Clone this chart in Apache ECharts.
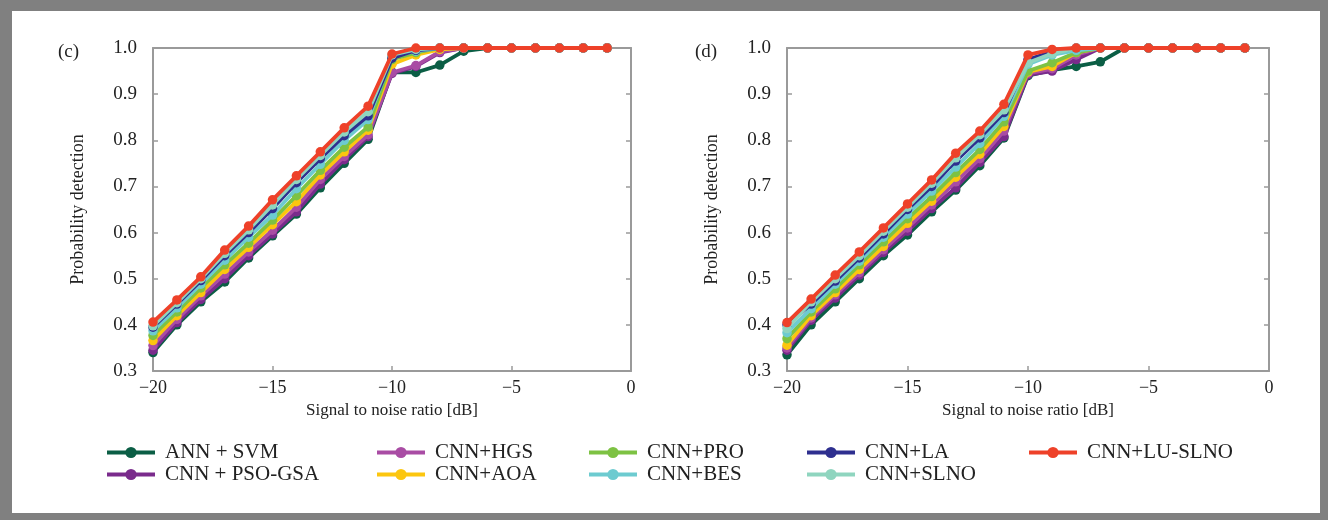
<!DOCTYPE html>
<html><head><meta charset="utf-8">
<script src="https://cdn.jsdelivr.net/npm/echarts@6/dist/echarts.min.js"></script>
<style>
html,body{margin:0;padding:0;background:#808080;width:1328px;height:520px;overflow:hidden;}
#c{position:absolute;left:12px;top:11px;width:1308px;height:502px;background:#fff;}
</style></head><body><div id="c"></div>
<script>
const snr = [-20,-19,-18,-17,-16,-15,-14,-13,-12,-11,-10,-9,-8,-7,-6,-5,-4,-3,-2,-1];
const names = ['ANN + SVM','CNN + PSO-GSA','CNN+HGS','CNN+AOA','CNN+PRO','CNN+BES','CNN+LA','CNN+SLNO','CNN+LU-SLNO'];
const colors = ['#0b5e45','#7a2b8c','#a94ca4','#fcc60f','#7dc243','#6dcbd0','#2e2f8f','#8fd5bf','#ee4129'];
const yTicks = [0.3,0.4,0.5,0.6,0.7,0.8,0.9,1.0];
const xTicks = [-20,-15,-10,-5,0];

// panel (c)
const c_svm  = [0.340,0.400,0.450,0.493,0.545,0.593,0.640,0.697,0.750,0.802,0.948,0.947,0.963,0.993,1,1,1,1,1,1];
const c_pso  = [0.345,0.405,0.455,0.500,0.550,0.597,0.645,0.705,0.758,0.808,0.945,0.960,0.990,1,1,1,1,1,1,1];
const c_hgs  = [0.355,0.412,0.463,0.510,0.558,0.605,0.655,0.715,0.765,0.812,0.947,0.962,0.992,1,1,1,1,1,1,1];
const c_aoa  = [0.366,0.420,0.470,0.520,0.568,0.617,0.667,0.725,0.775,0.822,0.965,0.985,0.997,1,1,1,1,1,1,1];
const c_pro  = [0.377,0.428,0.480,0.530,0.577,0.627,0.680,0.735,0.785,0.829,0.975,0.990,1,1,1,1,1,1,1,1];
const c_bes  = [0.387,0.437,0.488,0.540,0.590,0.638,0.695,0.748,0.800,0.845,0.982,0.993,1,1,1,1,1,1,1,1];
const c_la   = [0.395,0.445,0.496,0.550,0.600,0.652,0.708,0.760,0.810,0.853,0.978,0.995,1,1,1,1,1,1,1,1];
const c_slno = [0.398,0.448,0.500,0.555,0.606,0.660,0.715,0.767,0.818,0.862,0.985,0.997,1,1,1,1,1,1,1,1];
const c_lu   = [0.406,0.454,0.504,0.562,0.614,0.671,0.723,0.775,0.827,0.874,0.987,1,1,1,1,1,1,1,1,1];

// panel (d)
const d_svm  = [0.335,0.400,0.450,0.500,0.550,0.595,0.645,0.692,0.745,0.805,0.940,0.952,0.960,0.970,1,1,1,1,1,1];
const d_pso  = [0.345,0.410,0.458,0.508,0.557,0.603,0.652,0.697,0.752,0.808,0.942,0.950,0.975,1,1,1,1,1,1,1];
const d_hgs  = [0.350,0.415,0.465,0.513,0.563,0.610,0.660,0.710,0.760,0.820,0.945,0.955,0.985,1,1,1,1,1,1,1];
const d_aoa  = [0.356,0.420,0.470,0.520,0.570,0.620,0.668,0.720,0.770,0.830,0.948,0.960,0.990,1,1,1,1,1,1,1];
const d_pro  = [0.370,0.428,0.478,0.530,0.580,0.630,0.678,0.730,0.780,0.840,0.950,0.968,0.990,1,1,1,1,1,1,1];
const d_bes  = [0.383,0.435,0.488,0.538,0.590,0.640,0.690,0.742,0.793,0.852,0.965,0.985,0.995,1,1,1,1,1,1,1];
const d_la   = [0.400,0.445,0.495,0.545,0.597,0.650,0.700,0.755,0.805,0.860,0.975,0.992,1,1,1,1,1,1,1,1];
const d_slno = [0.392,0.450,0.500,0.550,0.603,0.655,0.707,0.762,0.812,0.866,0.968,0.988,1,1,1,1,1,1,1,1];
const d_lu   = [0.405,0.456,0.508,0.558,0.610,0.662,0.714,0.772,0.820,0.878,0.985,0.997,1,1,1,1,1,1,1,1];

const panelC = [c_svm,c_pso,c_hgs,c_aoa,c_pro,c_bes,c_la,c_slno,c_lu];
const panelD = [d_svm,d_pso,d_hgs,d_aoa,d_pro,d_bes,d_la,d_slno,d_lu];

const FONT = '"Liberation Serif","DejaVu Serif",serif';
const AX = '#9a9a9a';
const fmtX = v => (v < 0 ? '\u2212' + Math.abs(v) : String(v));

function xAxisFor(g){
  return [{
    type:'value', gridIndex:g, min:-20, max:0, interval:5,
    name:'Signal to noise ratio [dB]', nameLocation:'middle', nameGap:30,
    nameTextStyle:{fontFamily:FONT,fontSize:17,color:'#222'},
    axisLine:{show:true,onZero:false,lineStyle:{color:AX,width:2}},
    axisTick:{show:true,inside:true,length:5,lineStyle:{color:AX,width:1.5}},
    axisLabel:{fontFamily:FONT,fontSize:18,color:'#222',margin:8,formatter:fmtX,
      customValues:xTicks},
    splitLine:{show:false}
  },{
    type:'value', gridIndex:g, min:-20, max:0, interval:5, position:'top',
    axisLine:{show:true,onZero:false,lineStyle:{color:AX,width:2}},
    axisTick:{show:false}, axisLabel:{show:false}, splitLine:{show:false}
  }];
}
function yAxisFor(g){
  return [{
    type:'value', gridIndex:g, min:0.3, max:1.0, interval:0.1,
    name:'Probability detection', nameLocation:'middle', nameGap:66,
    nameTextStyle:{fontFamily:FONT,fontSize:18,color:'#222'},
    axisLine:{show:true,onZero:false,lineStyle:{color:AX,width:2}},
    axisTick:{show:true,inside:true,length:5,lineStyle:{color:AX,width:1.5}},
    axisLabel:{fontFamily:FONT,fontSize:19,color:'#222',margin:16,
      formatter:v=>v.toFixed(1), customValues:yTicks},
    splitLine:{show:false}
  },{
    type:'value', gridIndex:g, min:0.3, max:1.0, interval:0.1, position:'right',
    axisLine:{show:true,onZero:false,lineStyle:{color:AX,width:2}},
    axisTick:{show:true,inside:true,length:5,lineStyle:{color:AX,width:1.5}},
    axisLabel:{show:false}, splitLine:{show:false}
  }];
}

const series = [];
[panelC,panelD].forEach((panel,g)=>{
  panel.forEach((arr,i)=>{
    series.push({
      type:'line', name:names[i], xAxisIndex:g*2, yAxisIndex:g*2,
      data: snr.map((x,k)=>[x,arr[k]]),
      symbol:'circle', symbolSize:9.5, showSymbol:true,
      lineStyle:{color:colors[i],width:3.8},
      itemStyle:{color:colors[i]},
      z: 2+i, animation:false
    });
  });
});

const legendCols = [
  {x:93, items:[0,1]},
  {x:363, items:[2,3]},
  {x:575, items:[4,5]},
  {x:793, items:[6,7]},
  {x:1015, items:[8]}
];
const legends = legendCols.map(c=>({
  left:c.x, top:431, padding:0, orient:'vertical', itemGap:1,
  itemWidth:48, itemHeight:14,
  lineStyle:{width:4},
  textStyle:{fontFamily:FONT,fontSize:21,color:'#222',padding:[0,0,0,5]},
  data:c.items.map(i=>names[i]),
  selectedMode:false
}));

const chart = echarts.init(document.getElementById('c'), null, {renderer:'canvas'});
chart.setOption({
  backgroundColor:'#fff',
  animation:false,
  color:colors,
  title:[
    {text:'(c)', left:41, top:27, textStyle:{fontFamily:FONT,fontSize:19,fontWeight:'normal',color:'#222'}},
    {text:'(d)', left:678, top:27, textStyle:{fontFamily:FONT,fontSize:19,fontWeight:'normal',color:'#222'}}
  ],
  grid:[
    {left:141, top:37, width:478, height:323},
    {left:775, top:37, width:482, height:323}
  ],
  xAxis:[...xAxisFor(0), ...xAxisFor(1)],
  yAxis:[...yAxisFor(0), ...yAxisFor(1)],
  legend:legends,
  series:series
});
</script></body></html>
